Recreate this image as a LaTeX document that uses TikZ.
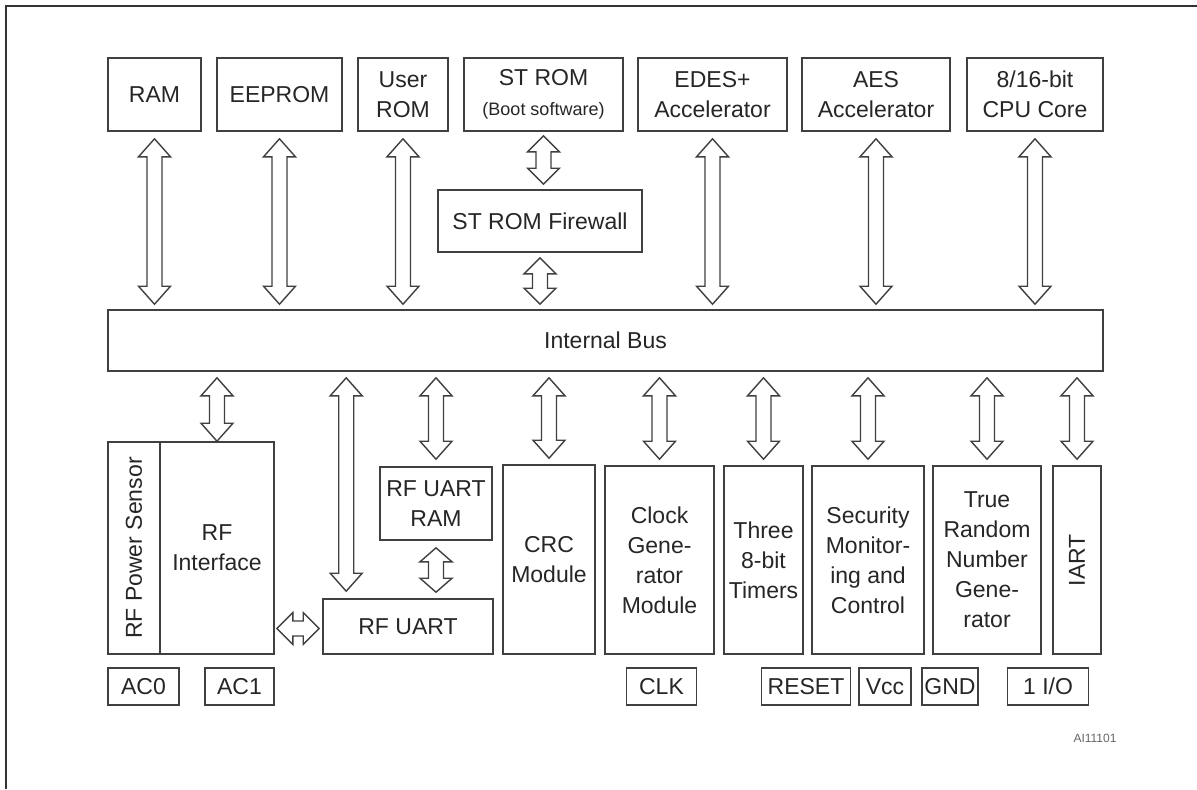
\documentclass[tikz,border=0pt]{standalone}
\usepackage{fontspec}
\setmainfont{Liberation Sans}
\usetikzlibrary{calc}
\tikzset{
  blk/.style={draw=black!75, line width=0.8pt, fill=white, inner sep=1pt, align=center,
    font=\fontsize{11.5}{15}\selectfont, text=black!85},
  barrow/.style={draw=black!75, line width=0.7pt, fill=white, line join=miter},
  pin/.style={blk, minimum height=18.5pt},
}
% vertical double block arrow: [#1 head length], #2 top point, #3 bottom point
\newcommand\vdarr[3][9pt]{\draw[barrow] let \p1=#2, \p2=#3 in
  (\x1,\y1) -- (\x1+8pt,\y1-#1) -- (\x1+3.75pt,\y1-#1) -- (\x1+3.75pt,\y2+#1)
  -- (\x1+8pt,\y2+#1) -- (\x1,\y2) -- (\x1-8pt,\y2+#1) -- (\x1-3.75pt,\y2+#1)
  -- (\x1-3.75pt,\y1-#1) -- (\x1-8pt,\y1-#1) -- cycle;}
% horizontal double block arrow: [#1 head length], #2 left point, #3 right point
\newcommand\hdarr[3][8pt]{\draw[barrow] let \p1=#2, \p2=#3 in
  (\x1,\y1) -- (\x1+#1,\y1+8pt) -- (\x1+#1,\y1+3.75pt) -- (\x2-#1,\y1+3.75pt)
  -- (\x2-#1,\y1+8pt) -- (\x2,\y1) -- (\x2-#1,\y1-8pt) -- (\x2-#1,\y1-3.75pt)
  -- (\x1+#1,\y1-3.75pt) -- (\x1+#1,\y1-8pt) -- cycle;}
\begin{document}
\begin{tikzpicture}[x=0.5pt,y=-0.5pt]
\useasboundingbox (0,0) rectangle (1197,789);
\fill[white] (0,0) rectangle (1197,789);
% outer frame
\draw[black!80, line width=1pt] (6,789) -- (6,6) -- (1197,6);

% top row
\node[blk, minimum width=46.5pt, minimum height=36.5pt] (ram)  at (154.5,94.5) {RAM};
\node[blk, minimum width=62.5pt, minimum height=36.5pt] (eep)  at (279.5,94.5) {EEPROM};
\node[blk, minimum width=45pt,   minimum height=36.5pt] (urom) at (403,94.5) {User\\ROM};
\node[blk, minimum width=79.5pt, minimum height=36.5pt] (strom) at (543.5,94.5) {ST ROM\\{\fontsize{9}{11}\selectfont(Boot software)}};
\node[blk, minimum width=74.5pt, minimum height=36.5pt] (edes) at (712.5,94.5) {EDES+\\Accelerator};
\node[blk, minimum width=74pt,   minimum height=36.5pt] (aes)  at (876,94.5) {AES\\Accelerator};
\node[blk, minimum width=68pt,   minimum height=36.5pt] (cpu)  at (1035,94.5) {8/16-bit\\CPU Core};

\node[blk, minimum width=102pt, minimum height=31pt] (fw) at (540,221) {ST ROM Firewall};
\node[blk, minimum width=497.5pt, minimum height=30.5pt] (bus) at (605.5,340.5) {Internal Bus};

% lower blocks
\node[blk, rotate=90, minimum width=106pt, minimum height=26pt] (rfps) at (134,548) {RF Power Sensor};
\node[blk, minimum width=57pt, minimum height=106pt] (rfi) at (217,548) {RF\\Interface};
\node[blk, minimum width=56pt, minimum height=36.5pt] (urram) at (436,503.5) {RF UART\\RAM};
\node[blk, minimum width=85pt, minimum height=27.5pt] (rfuart) at (408,626.5) {RF UART};
\node[blk, minimum width=46pt, minimum height=94.5pt] (crc) at (549,559.5) {CRC\\Module};
\node[blk, minimum width=54.5pt, minimum height=94pt] (clk) at (659.5,560) {Clock\\Gene-\\rator\\Module};
\node[blk, minimum width=39.5pt, minimum height=94pt] (tim) at (763.5,560) {Three\\8-bit\\Timers};
\node[blk, minimum width=56pt, minimum height=94pt] (sec) at (868,560) {Security\\Monitor-\\ing and\\Control};
\node[blk, minimum width=54pt, minimum height=94pt] (trng) at (987,560) {True\\Random\\Number\\Gene-\\rator};
\node[blk, rotate=90, minimum width=94pt, minimum height=24pt] (iart) at (1077,560) {IART};

% pins
\node[pin, minimum width=35.5pt] (ac0) at (143.5,686.5) {AC0};
\node[pin, minimum width=34.5pt] (ac1) at (239.5,686.5) {AC1};
\node[pin, minimum width=35pt] (pclk) at (661.5,686.5) {CLK};
\node[pin, minimum width=44.5pt] (rst) at (806,686.5) {RESET};
\node[pin, minimum width=26pt] (vcc) at (885,686.5) {Vcc};
\node[pin, minimum width=28pt] (gnd) at (950,686.5) {GND};
\node[pin, minimum width=40.5pt] (io) at (1048,686.5) {1 I/O};

\node[font=\fontsize{6}{7}\selectfont, text=black!60] (code) at (1095,738) {AI11101};

% top arrows
\vdarr{($(ram.south)+(0,7)$)}{($(ram.south |- bus.north)+(0,-5)$)}
\vdarr{($(eep.south)+(0,7)$)}{($(eep.south |- bus.north)+(0,-5)$)}
\vdarr{($(urom.south)+(0,7)$)}{($(urom.south |- bus.north)+(0,-5)$)}
\vdarr[8pt]{($(strom.south)+(0,4)$)}{($(strom.south |- fw.north)+(0,-5)$)}
\vdarr[8pt]{($(fw.south)+(0,5)$)}{($(fw.south |- bus.north)+(0,-5)$)}
\vdarr{($(edes.south)+(0,7)$)}{($(edes.south |- bus.north)+(0,-5)$)}
\vdarr{($(aes.south)+(0,7)$)}{($(aes.south |- bus.north)+(0,-5)$)}
\vdarr{($(cpu.south)+(0,7)$)}{($(cpu.south |- bus.north)+(0,-5)$)}

% bottom arrows
\vdarr{($(rfi.north |- bus.south)+(0,6)$)}{(rfi.north)}
\vdarr{($(rfuart.north west |- bus.south)+(24,6)$)}{($(rfuart.north west)+(24,-7)$)}
\vdarr{($(urram.north |- bus.south)+(0,6)$)}{($(urram.north)+(0,-7)$)}
\vdarr[7pt]{($(urram.south)+(0,7)$)}{($(rfuart.north -| urram.south)+(0,-6)$)}
\vdarr{($(crc.north |- bus.south)+(0,6)$)}{($(crc.north)+(0,-6)$)}
\vdarr{($(clk.north |- bus.south)+(0,6)$)}{($(clk.north)+(0,-6)$)}
\vdarr{($(tim.north |- bus.south)+(0,6)$)}{($(tim.north)+(0,-6)$)}
\vdarr{($(sec.north |- bus.south)+(0,6)$)}{($(sec.north)+(0,-6)$)}
\vdarr{($(trng.north |- bus.south)+(0,6)$)}{($(trng.north)+(0,-6)$)}
\vdarr{($(iart.east |- bus.south)+(0,6)$)}{($(iart.east)+(0,-6)$)}

\hdarr{($(rfi.east |- rfuart.west)+(2,2)$)}{($(rfuart.west)+(-3,2)$)}
\end{tikzpicture}
\end{document}
